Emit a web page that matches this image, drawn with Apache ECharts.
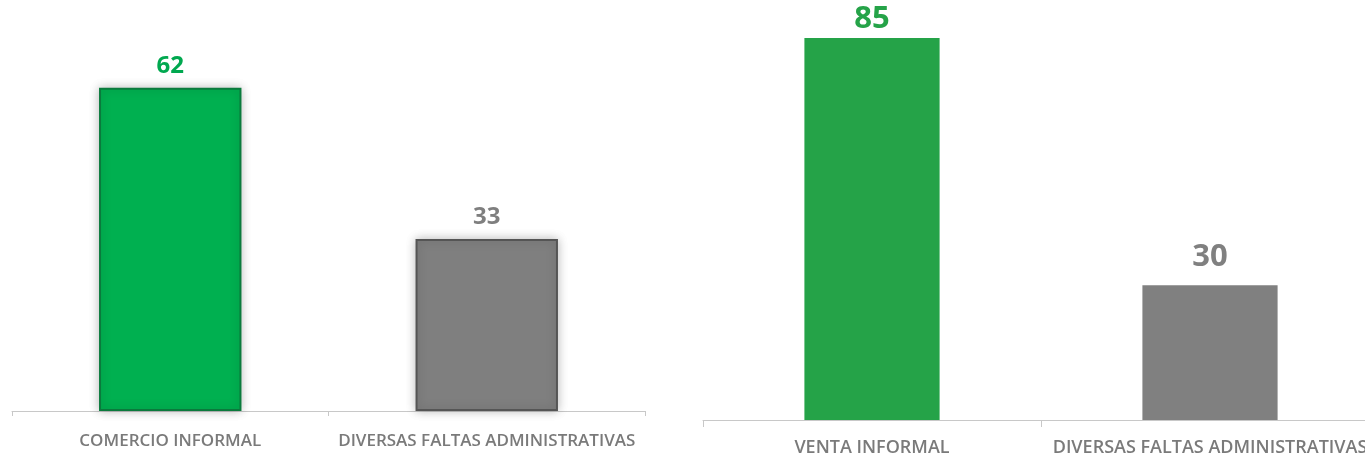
<!DOCTYPE html>
<html><head><meta charset="utf-8">
<script src="https://cdn.jsdelivr.net/npm/echarts@6/dist/echarts.min.js"></script>
<style>html,body{margin:0;padding:0;background:#fff;overflow:hidden}#c{width:1379px;height:456px}</style>
</head><body><div id="c"></div>
<script>
const leftCategories = ['COMERCIO INFORMAL', 'DIVERSAS FALTAS ADMINISTRATIVAS'];
const leftValues = [62, 33];
const rightCategories = ['VENTA INFORMAL', 'DIVERSAS FALTAS ADMINISTRATIVAS'];
const rightValues = [85, 30];

const leftColors = ['#00b050', '#7f7f7f'];
const leftBorders = ['#0a7a3c', '#555555'];
const leftLabelColors = ['#00a84f', '#7f7f7f'];
const rightColors = ['#25a348', '#808080'];
const rightLabelColors = ['#25a348', '#808080'];

const chart = echarts.init(document.getElementById('c'), null, {renderer: 'canvas'});
const font = 'Open Sans';

const leftData = leftValues.map((v, i) => ({
  value: v,
  itemStyle: {color: leftColors[i], borderColor: leftBorders[i], borderWidth: 2,
    shadowColor: 'rgba(0,0,0,0.25)', shadowBlur: 10},
  label: {color: leftLabelColors[i]}
}));
const rightData = rightValues.map((v, i) => ({
  value: v,
  itemStyle: {color: rightColors[i]},
  label: {color: rightLabelColors[i], distance: i === 0 ? 3 : 12}
}));

chart.setOption({
  animation: false,
  backgroundColor: '#ffffff',
  grid: [
    {left: 12, right: 734, top: 46, bottom: 45, containLabel: false, outerBoundsMode: 'none'},
    {left: 703, right: 0, top: 15.5, bottom: 36, containLabel: false, outerBoundsMode: 'none'}
  ],
  xAxis: [
    {type: 'category', gridIndex: 0, data: leftCategories,
      axisLine: {lineStyle: {color: '#c8c8c8', width: 1}},
      axisTick: {show: true, length: 5, lineStyle: {color: '#c8c8c8'}},
      axisLabel: {interval: 0, margin: 22, color: '#7a7a7a', fontFamily: font, fontSize: 17, fontWeight: 600}},
    {type: 'category', gridIndex: 1, data: rightCategories,
      axisLine: {lineStyle: {color: '#c8c8c8', width: 1}},
      axisTick: {show: true, length: 7, lineStyle: {color: '#c8c8c8'}},
      axisLabel: {interval: 0, margin: 19, color: '#7a7a7a', fontFamily: font, fontSize: 18, fontWeight: 600}}
  ],
  yAxis: [
    {type: 'value', gridIndex: 0, min: 0, max: 70, show: false, splitLine: {show: false}},
    {type: 'value', gridIndex: 1, min: 0, max: 90, show: false, splitLine: {show: false}}
  ],
  series: [
    {type: 'bar', xAxisIndex: 0, yAxisIndex: 0, data: leftData, barCategoryGap: '55%',
      label: {show: true, position: 'top', distance: 10, fontFamily: font, fontSize: 24, fontWeight: 'bold'}},
    {type: 'bar', xAxisIndex: 1, yAxisIndex: 1, data: rightData, barCategoryGap: '60%',
      label: {show: true, position: 'top', fontFamily: font, fontSize: 31, fontWeight: 'bold'}}
  ]
});
</script></body></html>
